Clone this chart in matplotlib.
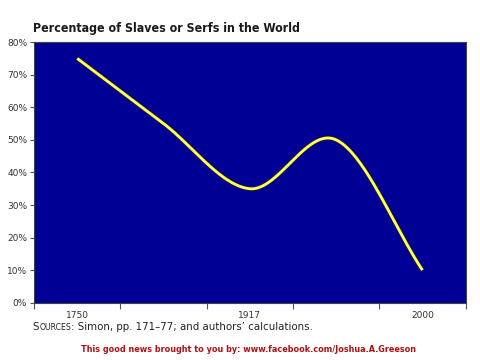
import matplotlib
matplotlib.use("Agg")
import matplotlib.pyplot as plt
import matplotlib.patheffects as pe
import numpy as np
from matplotlib.ticker import FuncFormatter

# data (category axis, 5 slots)
years = ["1750", "", "1917", "", "2000"]
pct = [75, 55, 35, 50, 10]


def smooth(y, n=40):
    # catmull-rom curve through the points, like excel's smoothed line
    pts = np.array(y, dtype=float)
    p = np.concatenate([[2 * pts[0] - pts[1]], pts, [2 * pts[-1] - pts[-2]]])
    xs, ys = [], []
    for i in range(len(pts) - 1):
        p0, p1, p2, p3 = p[i], p[i + 1], p[i + 2], p[i + 3]
        t = np.linspace(0, 1, n)
        v = 0.5 * ((2 * p1) + (-p0 + p2) * t + (2 * p0 - 5 * p1 + 4 * p2 - p3) * t ** 2
                   + (-p0 + 3 * p1 - 3 * p2 + p3) * t ** 3)
        xs.extend(i + t)
        ys.extend(v)
    return np.array(xs), np.array(ys)


fig = plt.figure(figsize=(4.8, 3.6), dpi=100)
ax = fig.add_axes([0.071, 0.159, 0.899, 0.724])
ax.set_facecolor("#000094")

sx, sy = smooth(pct)
ax.plot(sx, sy, color="#ffff66", lw=2.0, solid_capstyle="butt",
        path_effects=[pe.Stroke(linewidth=3.0, foreground="#2a2a10"), pe.Normal()])

ax.set_xlim(-0.5, len(years) - 0.5)
ax.set_ylim(0, 80)
ax.set_yticks(range(0, 81, 10))
ax.yaxis.set_major_formatter(FuncFormatter(lambda v, p: "%d%%" % v))
ax.set_xticks(np.arange(len(years) + 1) - 0.5)
ax.set_xticklabels([])
ax.set_xticks(range(len(years)), minor=True)
ax.set_xticklabels(years, minor=True)
ax.tick_params(axis="x", which="minor", length=0, pad=6)
ax.tick_params(axis="x", which="major", length=4, color="#555555")
ax.tick_params(axis="y", length=3, color="#555555", pad=2)
ax.tick_params(which="both", labelsize=6.5, labelcolor="#333333")
for s in ax.spines.values():
    s.set_color("#444444")
    s.set_linewidth(0.8)

fig.text(0.068, 0.91, "Percentage of Slaves or Serfs in the World",
         fontsize=8.9, fontweight="bold", color="#1a1a1a",
         family="DejaVu Sans", fontstretch="condensed")

# "Sources" in small caps, pieced together
r = fig.canvas.get_renderer()
t1 = fig.text(0.068, 0.083, "S", fontsize=7.4, color="#222222")
x = t1.get_window_extent(r).x1 / fig.bbox.width
t2 = fig.text(x, 0.083, "OURCES", fontsize=5.6, color="#222222")
x = t2.get_window_extent(r).x1 / fig.bbox.width
fig.text(x, 0.083, ": Simon, pp. 171\u201377; and authors\u2019 calculations.",
         fontsize=7.4, color="#222222")

fig.text(0.517, 0.022, "This good news brought to you by: www.facebook.com/Joshua.A.Greeson",
         fontsize=6.5, fontweight="bold", color="#b01010", ha="center",
         family="DejaVu Sans", fontstretch="condensed")

fig.savefig("out.png", dpi=100)
